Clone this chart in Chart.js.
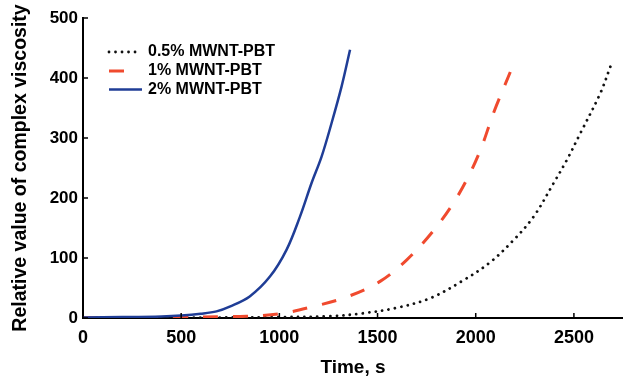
<!DOCTYPE html>
<html>
<head>
<meta charset="utf-8">
<script src="https://cdn.jsdelivr.net/npm/chart.js@4"></script>
<style>
  html, body { margin: 0; padding: 0; background: #fff; }
  #wrap { width: 623px; height: 377px; }
</style>
</head>
<body>
<div id="wrap"><canvas id="chart" width="623" height="377"></canvas></div>
<script>
// values
var seriesLabels = ['0.5% MWNT-PBT', '1% MWNT-PBT', '2% MWNT-PBT'];

var time05 = [0, 500, 1000, 1258, 1428, 1598, 1768, 1938, 2074, 2193, 2295, 2397, 2465, 2533, 2635, 2686];
var visc05 = [0.3, 0.5, 1.5, 3, 8, 17, 33, 63, 93, 130, 169, 225, 264, 308, 375, 419];

var time1 = [0, 500, 700, 833, 1003, 1171, 1343, 1513, 1649, 1776, 1887, 1972, 2031, 2091, 2176];
var visc1 = [0.5, 1, 2, 3, 7, 19, 35, 61, 97, 142, 192, 242, 286, 342, 410];

var time2 = [0, 200, 400, 500, 600, 680, 747, 849, 952, 1037, 1105, 1164, 1215, 1266, 1317, 1360];
var visc2 = [1, 1.5, 2.5, 4, 7, 11, 19, 36, 69, 114, 169, 225, 269, 325, 386, 447];

var xTicks = [0, 500, 1000, 1500, 2000, 2500];
var yTicks = [0, 100, 200, 300, 400, 500];

var pairs = function(xs, ys){
    return xs.map(function(x, i){ return {x: x, y: ys[i]}; });
};

// small tick marks pointing into the plot
var innerTicks = {
    id: 'innerTicks',
    afterDraw: function(chart){
        var ctx = chart.ctx, xs = chart.scales.x, ys = chart.scales.y;
        ctx.save();
        ctx.strokeStyle = '#000';
        ctx.lineWidth = 1.5;
        ctx.beginPath();
        xTicks.forEach(function(v){
            var px = xs.getPixelForValue(v);
            ctx.moveTo(px, ys.bottom);
            ctx.lineTo(px, ys.bottom - 5);
        });
        yTicks.forEach(function(v){
            var py = ys.getPixelForValue(v);
            ctx.moveTo(xs.left, py);
            ctx.lineTo(xs.left + 5, py);
        });
        ctx.stroke();
        ctx.restore();
    }
};

// legend in the upper left of the plot
var insideLegend = {
    id: 'insideLegend',
    afterDraw: function(chart){
        var ctx = chart.ctx;
        var rows = [52, 71, 89.5];
        var lens = [30, 17, 33];
        ctx.save();
        chart.data.datasets.forEach(function(ds, i){
            var y = rows[i];
            ctx.beginPath();
            ctx.strokeStyle = ds.borderColor;
            ctx.lineWidth = ds.borderWidth;
            ctx.lineCap = ds.borderCapStyle || 'butt';
            ctx.setLineDash(ds.borderDash || []);
            ctx.moveTo(109, y);
            ctx.lineTo(109 + lens[i], y);
            ctx.stroke();
            ctx.setLineDash([]);
            ctx.fillStyle = '#000';
            ctx.font = 'bold 16px "Liberation Sans", Arial, sans-serif';
            ctx.textBaseline = 'middle';
            ctx.fillText(ds.label, 148, y);
        });
        ctx.restore();
    }
};

var fontFam = '"Liberation Sans", Arial, sans-serif';

var ctx = document.getElementById('chart').getContext('2d');
var chart = new Chart(ctx, {
    type: 'line',
    data: {
        datasets: [{
            label: seriesLabels[0],
            data: pairs(time05, visc05),
            borderColor: '#111111',
            borderWidth: 2.8,
            borderDash: [0.01, 6.5],
            borderCapStyle: 'round',
            order: 3
        }, {
            label: seriesLabels[1],
            data: pairs(time1, visc1),
            borderColor: '#f04a2e',
            borderWidth: 3,
            borderDash: [15, 15],
            order: 2
        }, {
            label: seriesLabels[2],
            data: pairs(time2, visc2),
            borderColor: '#1f3d96',
            borderWidth: 2.5,
            order: 1
        }]
    },
    options: {
        responsive: false,
        animation: false,
        events: [],
        layout: { padding: { top: 18, right: 0, left: 0, bottom: 0 } },
        elements: {
            point: { radius: 0 },
            line: { tension: 0.35, fill: false }
        },
        plugins: {
            legend: { display: false },
            tooltip: { enabled: false }
        },
        scales: {
            x: {
                type: 'linear',
                min: 0,
                max: 2750,
                afterFit: function(s){ s.height = 59; },
                afterBuildTicks: function(s){ s.ticks = xTicks.map(function(v){ return {value: v}; }); },
                grid: { display: false, drawTicks: false },
                border: { display: true, color: '#000', width: 2 },
                ticks: {
                    padding: 9,
                    color: '#000',
                    callback: function(v){ return String(v); },
                    font: { family: fontFam, size: 18, weight: 'bold' }
                },
                title: {
                    display: true,
                    text: 'Time, s',
                    color: '#000',
                    padding: { top: 0, bottom: 0 },
                    font: { family: fontFam, size: 19, weight: 'bold', lineHeight: 1 }
                }
            },
            y: {
                min: 0,
                max: 500,
                afterFit: function(s){ s.width = 83; },
                afterBuildTicks: function(s){ s.ticks = yTicks.map(function(v){ return {value: v}; }); },
                grid: { display: false, drawTicks: false },
                border: { display: true, color: '#000', width: 2 },
                ticks: {
                    padding: 5,
                    color: '#000',
                    callback: function(v){ return String(v); },
                    font: { family: fontFam, size: 17, weight: 'bold' }
                },
                title: {
                    display: true,
                    text: 'Relative value of complex viscosity',
                    color: '#000',
                    padding: { top: 11, bottom: 0 },
                    font: { family: fontFam, size: 19.5, weight: 'bold', lineHeight: 1 }
                }
            }
        }
    },
    plugins: [innerTicks, insideLegend]
});
</script>
</body>
</html>
